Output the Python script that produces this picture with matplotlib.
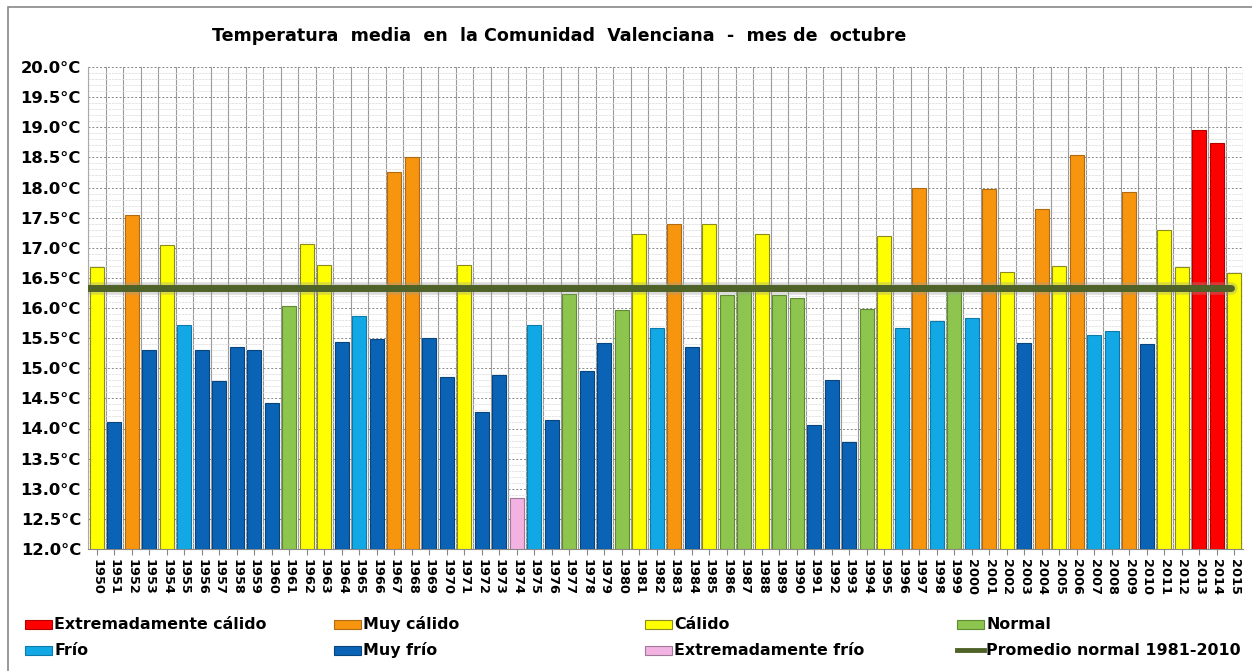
import matplotlib
matplotlib.use("Agg")
import matplotlib.pyplot as plt
from matplotlib.patches import Rectangle
from matplotlib.lines import Line2D
from matplotlib.ticker import MultipleLocator, FixedLocator
import numpy as np

years = list(range(1950, 2016))
temps = [16.68, 14.10, 17.55, 15.31, 17.05, 15.72, 15.30, 14.79, 15.36, 15.30,
         14.43, 16.04, 17.07, 16.72, 15.43, 15.86, 15.49, 18.26, 18.51, 15.50,
         14.86, 16.71, 14.28, 14.88, 12.85, 15.71, 14.14, 16.23, 14.96, 15.42,
         15.97, 17.22, 15.66, 17.40, 15.35, 17.39, 16.21, 16.30, 17.22, 16.21,
         16.17, 14.06, 14.80, 13.78, 15.99, 17.20, 15.67, 17.99, 15.78, 16.33,
         15.84, 17.97, 16.60, 15.42, 17.65, 16.69, 18.54, 15.55, 15.62, 17.93,
         15.40, 17.29, 16.68, 18.96, 18.74, 16.58]
cats = ["C", "MF", "MC", "MF", "C", "F", "MF", "MF", "MF", "MF",
        "MF", "N", "C", "C", "MF", "F", "MF", "MC", "MC", "MF",
        "MF", "C", "MF", "MF", "EF", "F", "MF", "N", "MF", "MF",
        "N", "C", "F", "MC", "MF", "C", "N", "N", "C", "N",
        "N", "MF", "MF", "MF", "N", "C", "F", "MC", "F", "N",
        "F", "MC", "C", "MF", "MC", "C", "MC", "F", "F", "MC",
        "MF", "C", "C", "EC", "EC", "C"]
normal_1981_2010 = 16.34

cat_labels = {
    "EC": "Extremadamente cálido",
    "MC": "Muy cálido",
    "C": "Cálido",
    "N": "Normal",
    "F": "Frío",
    "MF": "Muy frío",
    "EF": "Extremadamente frío",
}
cat_colors = {
    "EC": "#FF0000",
    "MC": "#F7950F",
    "C": "#FFFF00",
    "N": "#8DC54F",
    "F": "#12A8E6",
    "MF": "#0B63B6",
    "EF": "#F2B3E3",
}
cat_edges = {
    "EC": "#B00000",
    "MC": "#B06A10",
    "C": "#8A8A20",
    "N": "#5E8A30",
    "F": "#0E7AA8",
    "MF": "#08457F",
    "EF": "#A07898",
}
line_color = "#4F6228"
line_label = "Promedio normal 1981-2010"

W, H = 1252, 671
fig = plt.figure(figsize=(W / 100, H / 100), dpi=100)
fig.patch.set_facecolor("white")

ax = fig.add_axes([88 / W, 1 - 549 / H, 1155 / W, (549 - 67) / H])
ax.set_facecolor("white")

x = np.arange(len(years))
ax.bar(x, [t - 12.0 for t in temps], bottom=12.0, width=0.8,
       color=[cat_colors[c] for c in cats],
       edgecolor=[cat_edges[c] for c in cats], linewidth=0.8, zorder=3)

# normal line with faint shadow
ax.plot([-0.5, len(years) - 1.2], [normal_1981_2010] * 2, color="#9a9a9a",
        lw=9, alpha=0.35, solid_capstyle="round", zorder=4)
ax.plot([-0.5, len(years) - 1.2], [normal_1981_2010] * 2, color=line_color,
        lw=5, solid_capstyle="round", zorder=5)

ax.set_xlim(-0.5, len(years) - 0.5)
ax.set_ylim(12.0, 20.0)

ax.yaxis.set_major_locator(MultipleLocator(0.5))
ax.yaxis.set_minor_locator(MultipleLocator(0.1))
ax.yaxis.set_major_formatter(matplotlib.ticker.FuncFormatter(lambda v, p: f"{v:.1f}°C"))
ax.tick_params(axis="y", which="major", labelsize=11.8, length=0, pad=5)
ax.tick_params(axis="y", which="minor", length=0)
for lab in ax.get_yticklabels():
    lab.set_fontweight("bold")

ax.set_xticks(x)
ax.set_xticklabels([str(y) for y in years], rotation=-90, fontsize=9.3,
                   fontweight="bold")
ax.tick_params(axis="x", which="major", length=4, pad=3, color="#888888")
ax.xaxis.set_minor_locator(FixedLocator(np.arange(-0.5, len(years), 1.0)))
ax.tick_params(axis="x", which="minor", length=0)

ax.grid(which="minor", axis="x", color="#999999", lw=0.8, zorder=1)
ax.grid(which="minor", axis="y", color="#e0e0e0", lw=0.6, ls=(0, (3, 1)), zorder=1)
ax.grid(which="major", axis="y", color="#888888", lw=0.7, ls=(0, (2, 2)), zorder=1)
ax.grid(which="major", axis="x", visible=False)

for s in ["top", "right"]:
    ax.spines[s].set_visible(False)
ax.spines["left"].set_color("#aaaaaa")
ax.spines["bottom"].set_color("#888888")

fig.text(559 / W, 1 - 36 / H,
         "Temperatura  media  en  la Comunidad  Valenciana  -  mes de  octubre",
         ha="center", va="center", fontsize=12.6, fontweight="bold")

# figure frame
fig.add_artist(Rectangle((8 / W, -0.01), 1.1, 1 - 7 / H + 0.01, transform=fig.transFigure,
                         fill=False, edgecolor="#888888", lw=1.2))

# legend: 4 columns x 2 rows, placed manually
legend_items = [("EC", 0, 0), ("MC", 1, 0), ("C", 2, 0), ("N", 3, 0),
                ("F", 0, 1), ("MF", 1, 1), ("EF", 2, 1), ("LINE", 3, 1)]
col_patch_x = [25, 334, 645, 957]
row_y = [624, 650]
pw, ph = 27, 9
for key, ci, ri in legend_items:
    px = col_patch_x[ci]
    py = row_y[ri]
    if key == "LINE":
        fig.add_artist(Line2D([px / W, (px + pw) / W], [1 - py / H, 1 - py / H],
                              color=line_color, lw=3.5, transform=fig.transFigure))
        label = line_label
    else:
        fig.add_artist(Rectangle((px / W, 1 - (py + ph / 2) / H), pw / W, ph / H,
                                 facecolor=cat_colors[key], edgecolor=cat_edges[key],
                                 lw=0.8, transform=fig.transFigure))
        label = cat_labels[key]
    fig.text((px + pw + 2) / W, 1 - (py + 5) / H, label, ha="left", va="baseline",
             fontsize=11.4, fontweight="bold")

fig.savefig("out.png", dpi=100, facecolor="white")
